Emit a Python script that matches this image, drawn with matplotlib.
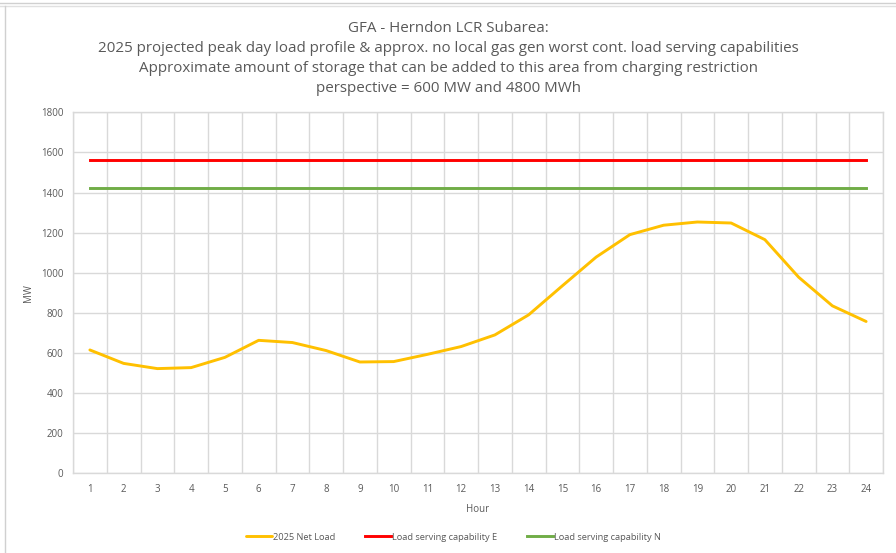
import matplotlib
matplotlib.use("Agg")
import matplotlib.pyplot as plt
from matplotlib.lines import Line2D
import numpy as np

hours = list(range(1, 25))
net_load = [615, 548, 522, 527, 578, 663, 652, 612, 555, 557, 593, 632,
            690, 790, 935, 1078, 1190, 1237, 1253, 1248, 1165, 978, 835, 757]
cap_e = [1563] * 24
cap_n = [1425] * 24
yticks = [0, 200, 400, 600, 800, 1000, 1200, 1400, 1600, 1800]
title_lines = [
    "GFA - Herndon LCR Subarea:",
    "2025 projected peak day load profile & approx. no local gas gen worst cont. load serving capabilities",
    "Approximate amount of storage that can be added to this area from charging restriction",
    "perspective = 600 MW and 4800 MWh",
]

plt.rcParams['font.family'] = ['Open Sans', 'DejaVu Sans']
txt = '#595959'
grid = '#d9d9d9'

fig = plt.figure(figsize=(8.96, 5.53), dpi=100)
ax = fig.add_axes([73/896, 1 - 473.3/553, (883-73)/896, (473.3-112.3)/553])

ax.plot(hours, net_load, color='#FFC000', lw=2.1, label='2025 Net Load', solid_capstyle='round', zorder=3)
ax.plot(hours, cap_e, color='#FF0000', lw=2.1, label='Load serving capability E', zorder=3)
ax.plot(hours, cap_n, color='#70AD47', lw=2.1, label='Load serving capability N', zorder=3)

ax.set_xlim(0.5, 24.5)
ax.set_ylim(0, 1800)
ax.set_yticks(yticks)
ax.set_yticklabels([str(v) for v in yticks])
ax.set_xticks(hours)
ax.set_xticks(np.arange(0.5, 25, 1), minor=True)
ax.tick_params(axis='both', which='both', length=0, labelsize=7, colors=txt)
ax.tick_params(axis='x', pad=8)
ax.tick_params(axis='y', pad=7)
ax.grid(True, which='major', axis='y', color=grid, lw=1)
ax.grid(True, which='minor', axis='x', color=grid, lw=1)
for s in ax.spines.values():
    s.set_color(grid)
    s.set_linewidth(1)
ax.set_axisbelow(True)

ax.set_xlabel('Hour', fontsize=7, color=txt, labelpad=6)
ax.set_ylabel('MW', fontsize=7, color=txt, labelpad=5)

ys = [29, 48, 69, 89]
for t, y in zip(title_lines, ys):
    fig.text(0.5, 1 - y/553, t, ha='center', va='center', fontsize=10.9, color=txt)

leg = fig.legend(loc='center', bbox_to_anchor=(453/896, 1 - 537/553), ncol=3, frameon=False,
                 fontsize=6.7, handlelength=2.8, handletextpad=0.1, columnspacing=3.2)
for t in leg.get_texts():
    t.set_color(txt)

# outer frame lines
fig.add_artist(Line2D([0, 1], [1 - 3/553, 1 - 3/553], color='#d0d0d0', lw=1, transform=fig.transFigure))
fig.add_artist(Line2D([0, 1], [1 - 6/553, 1 - 6/553], color='#e0e0e0', lw=1, transform=fig.transFigure))
fig.add_artist(Line2D([5/896, 5/896], [0, 1 - 6/553], color='#d0d0d0', lw=1, transform=fig.transFigure))

fig.savefig('out.png', dpi=100)
